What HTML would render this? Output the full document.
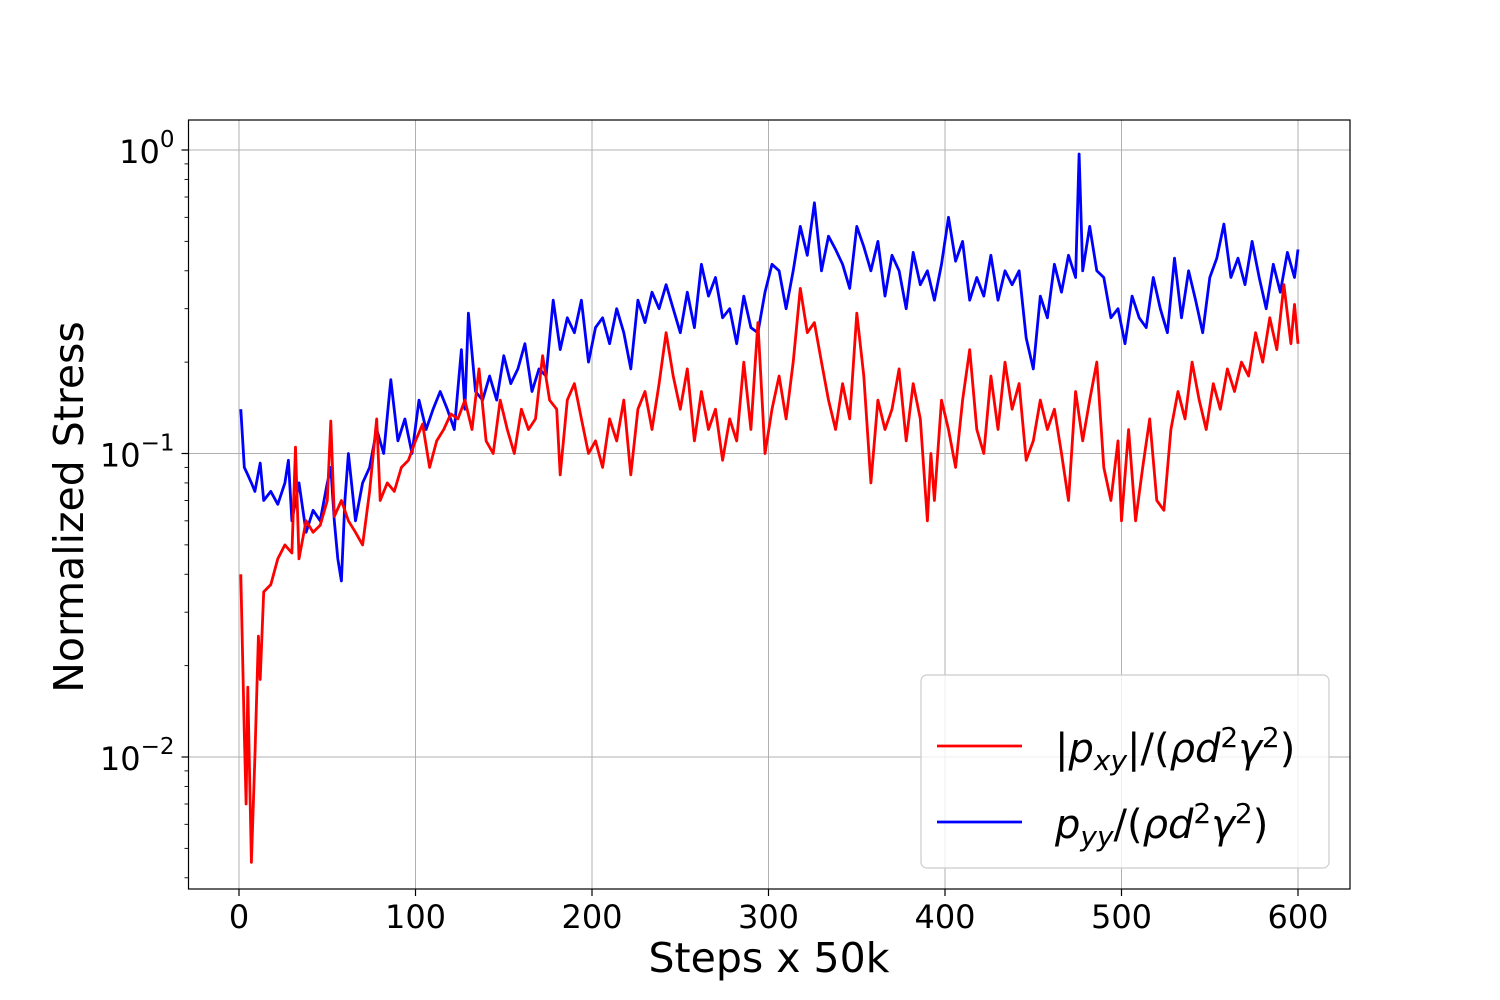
<!DOCTYPE html>
<html><head><meta charset="utf-8"><style>
body{margin:0;background:#fff;}
svg{display:block;font-family:"DejaVu Sans","Liberation Sans",sans-serif;}
</style></head><body>
<svg id="chart" width="1500" height="1000">
</svg>
<script>
const redSteps=[1,3,4,5,7,9,11,12,14,18,22,26,30,32,34,38,42,46,50,52,54,58,62,66,70,74,78,80,84,88,92,96,100,104,108,112,116,120,124,128,132,136,140,144,148,152,156,160,164,168,172,176,180,182,186,190,194,198,202,206,210,214,218,222,226,230,234,238,242,246,250,254,258,262,266,270,274,278,282,286,290,294,298,302,306,310,314,318,322,326,330,334,338,342,346,350,354,358,362,366,370,374,378,382,386,390,392,394,398,402,406,410,414,418,422,426,430,434,438,442,446,450,454,458,462,466,470,474,478,482,486,490,494,498,500,504,508,512,516,520,524,528,532,536,540,544,548,552,556,560,564,568,572,576,580,584,588,592,596,598,600];
const redValues=[0.040,0.012,0.007,0.017,0.0045,0.010,0.025,0.018,0.035,0.037,0.045,0.050,0.047,0.105,0.045,0.060,0.055,0.058,0.070,0.128,0.062,0.070,0.060,0.055,0.050,0.075,0.130,0.070,0.080,0.075,0.090,0.095,0.110,0.125,0.090,0.110,0.120,0.135,0.130,0.150,0.120,0.190,0.110,0.100,0.150,0.120,0.100,0.140,0.120,0.130,0.210,0.150,0.140,0.085,0.150,0.170,0.130,0.100,0.110,0.090,0.130,0.110,0.150,0.085,0.140,0.160,0.120,0.170,0.250,0.180,0.140,0.190,0.110,0.160,0.120,0.140,0.095,0.130,0.110,0.200,0.120,0.270,0.100,0.140,0.180,0.130,0.200,0.350,0.250,0.270,0.200,0.150,0.120,0.170,0.130,0.290,0.180,0.080,0.150,0.120,0.140,0.190,0.110,0.170,0.130,0.060,0.100,0.070,0.150,0.120,0.090,0.150,0.220,0.120,0.100,0.180,0.120,0.200,0.140,0.170,0.095,0.110,0.150,0.120,0.140,0.100,0.070,0.160,0.110,0.150,0.200,0.090,0.070,0.110,0.060,0.120,0.060,0.090,0.130,0.070,0.065,0.120,0.160,0.130,0.200,0.150,0.120,0.170,0.140,0.190,0.160,0.200,0.180,0.250,0.200,0.280,0.220,0.360,0.230,0.310,0.230];
const blueSteps=[1,3,5,7,9,12,14,18,22,26,28,30,34,38,42,46,50,52,54,56,58,60,62,66,70,74,78,82,86,90,94,98,102,106,110,114,118,122,126,128,130,134,138,142,146,150,154,158,162,166,170,174,178,182,186,190,194,198,202,206,210,214,218,222,226,230,234,238,242,246,250,254,258,262,266,270,274,278,282,286,290,294,298,302,306,310,314,318,322,326,330,334,338,342,346,350,354,358,362,366,370,374,378,382,386,390,394,398,402,406,410,414,418,422,426,430,434,438,442,446,450,454,458,462,466,470,474,476,478,482,486,490,494,498,502,506,510,514,518,522,526,530,534,538,542,546,550,554,558,562,566,570,574,578,582,586,590,594,598,600];
const blueValues=[0.140,0.090,0.085,0.080,0.075,0.093,0.070,0.075,0.068,0.080,0.095,0.060,0.080,0.055,0.065,0.060,0.080,0.090,0.060,0.045,0.038,0.070,0.100,0.060,0.080,0.090,0.120,0.100,0.175,0.110,0.130,0.100,0.150,0.120,0.140,0.160,0.140,0.120,0.220,0.140,0.290,0.160,0.150,0.180,0.150,0.210,0.170,0.190,0.230,0.160,0.190,0.180,0.320,0.220,0.280,0.250,0.320,0.200,0.260,0.280,0.230,0.300,0.250,0.190,0.320,0.270,0.340,0.300,0.360,0.300,0.250,0.340,0.260,0.420,0.330,0.380,0.280,0.300,0.230,0.330,0.260,0.250,0.340,0.420,0.400,0.300,0.400,0.560,0.450,0.670,0.400,0.520,0.470,0.420,0.350,0.560,0.480,0.400,0.500,0.330,0.450,0.400,0.300,0.460,0.360,0.400,0.320,0.420,0.600,0.430,0.500,0.320,0.380,0.330,0.450,0.320,0.400,0.360,0.400,0.240,0.190,0.330,0.280,0.420,0.340,0.450,0.380,0.970,0.400,0.560,0.400,0.380,0.280,0.300,0.230,0.330,0.280,0.260,0.380,0.300,0.250,0.440,0.280,0.400,0.320,0.250,0.380,0.440,0.570,0.380,0.440,0.360,0.500,0.380,0.300,0.420,0.340,0.460,0.380,0.470];
const xTicks=[0,100,200,300,400,500,600];
const yDecades=[0,-1,-2];

const NS="http://www.w3.org/2000/svg";
const svg=document.getElementById('chart');
const L=188.5,R=1350,T=120,B=889;
const xScale=v=>239+(v-0)*(1298-239)/600;
const yScale=v=>150+(0-Math.log10(v))*303.5;
function mk(tag,attrs,parent){const e=document.createElementNS(NS,tag);for(const k in attrs)e.setAttribute(k,attrs[k]);(parent||svg).appendChild(e);return e;}

xTicks.forEach(t=>{
  const g=mk('line',{x1:xScale(t),x2:xScale(t),y1:T,y2:B,stroke:'#b0b0b0','stroke-width':1});
  
  
  const tk=mk('line',{x1:xScale(t),x2:xScale(t),y1:B,y2:B+7,stroke:'#000','stroke-width':1.2});
  
  
  const lb=mk('text',{x:xScale(t),y:B+39,'text-anchor':'middle','font-size':32});
  
  
  lb.textContent=t;
});
yDecades.forEach(d=>{
  const y=yScale(Math.pow(10,d));
  const g=mk('line',{x1:L,x2:R,y1:y,y2:y,stroke:'#b0b0b0','stroke-width':1});
  
  
  const tk=mk('line',{x1:L-7,x2:L,y1:y,y2:y,stroke:'#000','stroke-width':1.2});
  
  
  const lb=mk('text',{x:L-14,y:y+13,'text-anchor':'end','font-size':32});
  
  
  lb.textContent='10';
  const sp=mk('tspan',{dy:-16,'font-size':23},lb);
  sp.textContent=d===0?'0':'\u2212'+(-d);
});
for(let d=-3;d<=0;d++){for(let m=2;m<=9;m++){const v=m*Math.pow(10,d);const y=yScale(v);if(y<T||y>B)continue;
  const tk=mk('line',{x1:L-4,x2:L,y1:y,y2:y,stroke:'#000','stroke-width':0.9});
  
  }}

function series(xs,ys,color,name){
  const d=xs.map((x,i)=>(i?'L':'M')+xScale(x).toFixed(1)+','+yScale(ys[i]).toFixed(1)).join('');
  const p=mk('path',{d:d,fill:'none',stroke:color,'stroke-width':2.8,'stroke-linejoin':'round'});
  
  
}
series(blueSteps,blueValues,'#0000ff','pyy-line');
series(redSteps,redValues,'#ff0000','pxy-line');

const frame=mk('rect',{x:L,y:T,width:R-L,height:B-T,fill:'none',stroke:'#000','stroke-width':1.2});



const xt=mk('text',{x:769,y:972,'text-anchor':'middle','font-size':41});


xt.textContent='Steps x 50k';
const yt=mk('text',{x:83,y:507,'text-anchor':'middle','font-size':41,transform:'rotate(-90 83 507)'});


yt.textContent='Normalized Stress';

const lg=mk('rect',{x:921,y:675,width:408,height:193,rx:6,fill:'#fff','fill-opacity':0.8,stroke:'#cccccc','stroke-width':1.2});


const l1=mk('line',{x1:937,x2:1022,y1:746,y2:746,stroke:'#ff0000','stroke-width':2.8});


const l2=mk('line',{x1:937,x2:1022,y1:822,y2:822,stroke:'#0000ff','stroke-width':2.8});


const t1=mk('text',{x:1055,y:762,'font-size':40});


t1.innerHTML='|<tspan font-style="italic">p</tspan><tspan font-style="italic" font-size="28" dy="8">xy</tspan><tspan dy="-8">|/(</tspan><tspan font-style="italic">ρd</tspan><tspan font-size="28" dy="-15">2</tspan><tspan font-style="italic" dy="15">γ</tspan><tspan font-size="28" dy="-15">2</tspan><tspan dy="15">)</tspan>';
const t2=mk('text',{x:1055,y:838,'font-size':40});


t2.innerHTML='<tspan font-style="italic">p</tspan><tspan font-style="italic" font-size="28" dy="8">yy</tspan><tspan dy="-8">/(</tspan><tspan font-style="italic">ρd</tspan><tspan font-size="28" dy="-15">2</tspan><tspan font-style="italic" dy="15">γ</tspan><tspan font-size="28" dy="-15">2</tspan><tspan dy="15">)</tspan>';
</script>
</body></html>
